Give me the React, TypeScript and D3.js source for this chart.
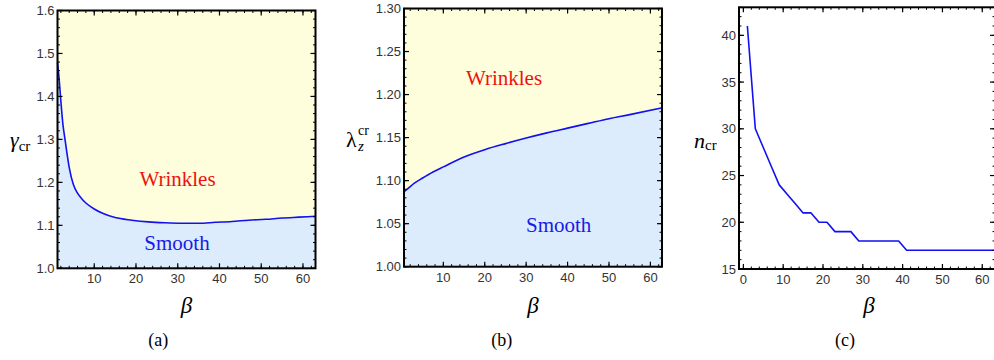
import React from 'react';
import * as d3 from 'd3';

// (a) critical stretch gamma_cr vs beta
const betaA = [1.2, 1.6, 2, 2.5, 3, 4, 5, 6, 7, 8, 10, 12, 15, 19, 23, 27, 31, 35, 39, 43, 47, 51, 55, 59, 63];
const gammaA = [1.478, 1.44, 1.39, 1.335, 1.3, 1.235, 1.195, 1.175, 1.162, 1.152, 1.138, 1.128, 1.118, 1.112, 1.108, 1.106, 1.105, 1.105, 1.107, 1.109, 1.112, 1.114, 1.117, 1.119, 1.121];

// (b) critical axial stretch lambda_z^cr vs beta
const betaB = [0.5, 1.5, 3, 5, 7.5, 10, 15, 20, 25, 30, 35, 40, 45, 50, 55, 62.8];
const lambdaB = [1.087, 1.091, 1.097, 1.103, 1.11, 1.116, 1.1275, 1.136, 1.143, 1.1495, 1.1555, 1.161, 1.1665, 1.172, 1.1767, 1.1845];

// (c) critical mode number n_cr vs beta
const betaC = [1, 3, 5, 7, 9, 11, 13, 15, 17, 19, 21, 23, 25, 27, 29, 31, 33, 35, 37, 39, 41, 43, 45, 47, 49, 51, 53, 55, 57, 59, 61, 63];
const nC = [41, 30, 28, 26, 24, 23, 22, 21, 21, 20, 20, 19, 19, 19, 18, 18, 18, 18, 18, 18, 17, 17, 17, 17, 17, 17, 17, 17, 17, 17, 17, 17];

const xTicksAB = [10, 20, 30, 40, 50, 60];
const xTicksC = [0, 10, 20, 30, 40, 50, 60];
const yTicksA = [1.0, 1.1, 1.2, 1.3, 1.4, 1.5, 1.6];
const yLabelsA = ['1.0', '1.1', '1.2', '1.3', '1.4', '1.5', '1.6'];
const yTicksB = [1.0, 1.05, 1.1, 1.15, 1.2, 1.25, 1.3];
const yLabelsB = ['1.00', '1.05', '1.10', '1.15', '1.20', '1.25', '1.30'];
const yTicksC = [15, 20, 25, 30, 35, 40];
const yLabelsC = ['15', '20', '25', '30', '35', '40'];

const YELLOW = '#fefedc';
const BLUE_FILL = '#dcecfc';
const LINE = '#1010f0';
const SERIF = 'Liberation Serif';
const SANS = 'Liberation Sans';

interface FrameProps {
  x: d3.ScaleLinear<number, number>;
  y: d3.ScaleLinear<number, number>;
  xTicks: number[];
  xMinorStep: number;
  yTicks: number[];
  yLabels: string[];
  yMinorStep: number;
}

const Frame: React.FC<FrameProps> = ({ x, y, xTicks, xMinorStep, yTicks, yLabels, yMinorStep }) => {
  const [x0, x1] = x.range();
  const [y0, y1] = y.range(); // y0 bottom, y1 top
  const [xd0, xd1] = x.domain();
  const [yd0, yd1] = y.domain();
  const xMinor = d3.range(Math.ceil(xd0 / xMinorStep) * xMinorStep, xd1 + 1e-9, xMinorStep);
  const yMinor = d3.range(Math.ceil(yd0 / yMinorStep - 1e-6) * yMinorStep, yd1 + 1e-9, yMinorStep);
  const maj = 5;
  const mnr = 2.5;
  return (
    <g>
      {xMinor.map((v, i) => (
        <g key={'xm' + i} stroke="#000" strokeWidth={1}>
          <line x1={x(v)} x2={x(v)} y1={y0} y2={y0 - mnr} />
          <line x1={x(v)} x2={x(v)} y1={y1} y2={y1 + mnr} />
        </g>
      ))}
      {yMinor.map((v, i) => (
        <g key={'ym' + i} stroke="#000" strokeWidth={1}>
          <line x1={x0} x2={x0 + mnr} y1={y(v)} y2={y(v)} />
          <line x1={x1} x2={x1 - mnr} y1={y(v)} y2={y(v)} />
        </g>
      ))}
      {xTicks.map((v) => (
        <g key={'xt' + v}>
          <line x1={x(v)} x2={x(v)} y1={y0} y2={y0 - maj} stroke="#000" strokeWidth={1.2} />
          <line x1={x(v)} x2={x(v)} y1={y1} y2={y1 + maj} stroke="#000" strokeWidth={1.2} />
          <text x={x(v)} y={y0 + 15} textAnchor="middle" fontFamily={SANS} fontSize={13} fill="#333">
            {v}
          </text>
        </g>
      ))}
      {yTicks.map((v, i) => (
        <g key={'yt' + v}>
          <line x1={x0} x2={x0 + maj} y1={y(v)} y2={y(v)} stroke="#000" strokeWidth={1.2} />
          <line x1={x1} x2={x1 - maj} y1={y(v)} y2={y(v)} stroke="#000" strokeWidth={1.2} />
          <text x={x0 - 3} y={y(v) + 4.5} textAnchor="end" fontFamily={SANS} fontSize={13} fill="#333">
            {yLabels[i]}
          </text>
        </g>
      ))}
      <rect x={x0} y={y1} width={x1 - x0} height={y0 - y1} fill="none" stroke="#000" strokeWidth={2} />
    </g>
  );
};

export default function App() {
  // panel (a)
  const xa = d3.scaleLinear().domain([1.2, 63]).range([57.5, 315.5]);
  const ya = d3.scaleLinear().domain([1.0, 1.6]).range([268.3, 10.5]);
  const ptsA = betaA.map((b, i) => [b, gammaA[i]] as [number, number]);
  const lineA = d3.line<[number, number]>().x((d) => xa(d[0])).y((d) => ya(d[1])).curve(d3.curveMonotoneX);
  const areaA = d3.area<[number, number]>().x((d) => xa(d[0])).y0(ya(1.0)).y1((d) => ya(d[1])).curve(d3.curveMonotoneX);

  // panel (b)
  const xb = d3.scaleLinear().domain([0.5, 62.8]).range([404, 662]);
  const yb = d3.scaleLinear().domain([1.0, 1.3]).range([266.7, 8.5]);
  const ptsB = betaB.map((b, i) => [b, lambdaB[i]] as [number, number]);
  const lineB = d3.line<[number, number]>().x((d) => xb(d[0])).y((d) => yb(d[1])).curve(d3.curveMonotoneX);
  const areaB = d3.area<[number, number]>().x((d) => xb(d[0])).y0(yb(1.0)).y1((d) => yb(d[1])).curve(d3.curveMonotoneX);

  // panel (c)
  const xc = d3.scaleLinear().domain([-1.1, 63.2]).range([739, 995]);
  const yc = d3.scaleLinear().domain([15, 43]).range([269, 7.3]);
  const ptsC = betaC.map((b, i) => [b, nC[i]] as [number, number]);
  const lineC = d3.line<[number, number]>().x((d) => xc(d[0])).y((d) => yc(d[1]));

  return (
    <svg width={994} height={360} style={{ position: 'absolute', left: 0, top: 0, background: '#fff' }}>
      {/* (a) */}
      <rect x={57.5} y={10.5} width={258} height={257.8} fill={YELLOW} />
      <path d={areaA(ptsA) ?? ''} fill={BLUE_FILL} />
      <path d={lineA(ptsA) ?? ''} fill="none" stroke={LINE} strokeWidth={1.6} />
      <text x={177.5} y={186} textAnchor="middle" fontFamily={SERIF} fontSize={21} fill="#ee1111">Wrinkles</text>
      <text x={177} y={250} textAnchor="middle" fontFamily={SERIF} fontSize={21} fill="#1a1ae6">Smooth</text>
      <Frame x={xa} y={ya} xTicks={xTicksAB} xMinorStep={2} yTicks={yTicksA} yLabels={yLabelsA} yMinorStep={0.02} />
      <text x={10} y={147} fontFamily={SERIF} fontSize={22}>
        <tspan fontStyle="italic">γ</tspan>
        <tspan fontSize={15} dy={4}>cr</tspan>
      </text>
      <text x={186.5} y={313} textAnchor="middle" fontFamily={SERIF} fontStyle="italic" fontSize={23}>β</text>
      <text x={158.3} y={346} textAnchor="middle" fontFamily={SERIF} fontSize={18}>(a)</text>

      {/* (b) */}
      <rect x={404} y={8.5} width={258} height={258.2} fill={YELLOW} />
      <path d={areaB(ptsB) ?? ''} fill={BLUE_FILL} />
      <path d={lineB(ptsB) ?? ''} fill="none" stroke={LINE} strokeWidth={1.6} />
      <text x={504} y={85} textAnchor="middle" fontFamily={SERIF} fontSize={21} fill="#ee1111">Wrinkles</text>
      <text x={558.7} y={232} textAnchor="middle" fontFamily={SERIF} fontSize={21} fill="#1a1ae6">Smooth</text>
      <Frame x={xb} y={yb} xTicks={xTicksAB} xMinorStep={2} yTicks={yTicksB} yLabels={yLabelsB} yMinorStep={0.01} />
      <text x={346} y={147} fontFamily={SERIF} fontSize={22}>
        <tspan>λ</tspan>
        <tspan x={358} y={135} fontSize={14}>cr</tspan>
        <tspan x={358} y={151} fontSize={15} fontStyle="italic">z</tspan>
      </text>
      <text x={533} y={313} textAnchor="middle" fontFamily={SERIF} fontStyle="italic" fontSize={23}>β</text>
      <text x={501.7} y={346} textAnchor="middle" fontFamily={SERIF} fontSize={18}>(b)</text>

      {/* (c) */}
      <path d={lineC(ptsC) ?? ''} fill="none" stroke={LINE} strokeWidth={1.6} strokeLinejoin="round" />
      <Frame x={xc} y={yc} xTicks={xTicksC} xMinorStep={2} yTicks={yTicksC} yLabels={yLabelsC} yMinorStep={1} />
      <text x={694} y={148} fontFamily={SERIF} fontSize={22}>
        <tspan fontStyle="italic">n</tspan>
        <tspan fontSize={15} dy={2}>cr</tspan>
      </text>
      <text x={869} y={313} textAnchor="middle" fontFamily={SERIF} fontStyle="italic" fontSize={23}>β</text>
      <text x={845} y={346} textAnchor="middle" fontFamily={SERIF} fontSize={18}>(c)</text>
    </svg>
  );
}
